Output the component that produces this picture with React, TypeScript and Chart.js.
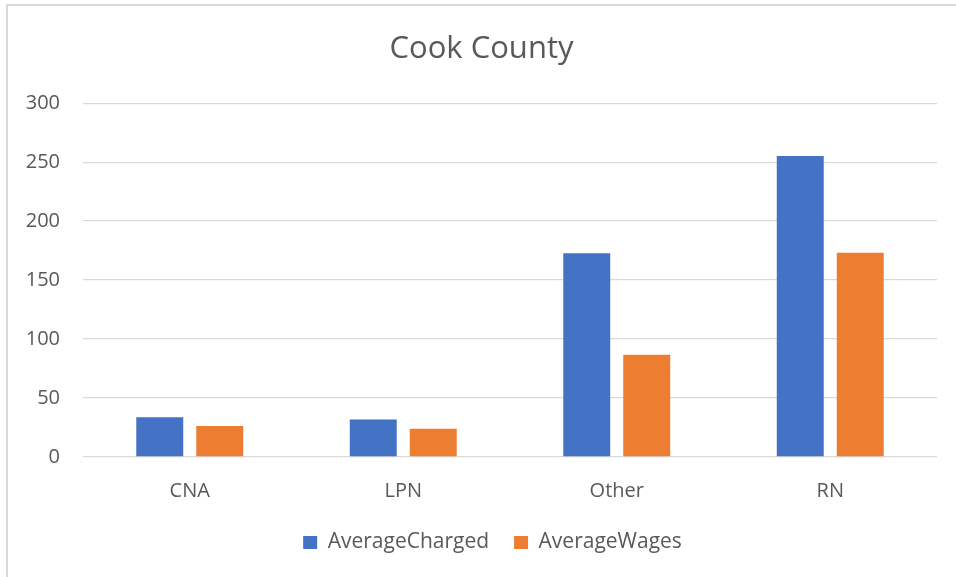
import React, { useEffect, useRef } from "react";
import { Chart, registerables } from "chart.js";

Chart.register(...registerables);

const categories = ["CNA", "LPN", "Other", "RN"];
const averageCharged = [33.6, 31.7, 172.8, 255.2];
const averageWages = [26.3, 24.0, 86.8, 173.2];
const yTicks = [0, 50, 100, 150, 200, 250, 300];

const FONT = "'Open Sans', 'DejaVu Sans', sans-serif";
const TEXT = "#595959";
const GRID = "#d9d9d9";

const framePlugin = {
  id: "frame",
  beforeDraw(chart: any) {
    const { ctx, width, height } = chart;
    ctx.save();
    ctx.fillStyle = "#ffffff";
    ctx.fillRect(0, 0, width, height);
    ctx.strokeStyle = GRID;
    ctx.lineWidth = 2;
    ctx.beginPath();
    ctx.moveTo(7, height);
    ctx.lineTo(7, 5);
    ctx.lineTo(width, 5);
    ctx.stroke();
    ctx.restore();
  },
};

const legendShiftPlugin = {
  id: "legendShift",
  afterLayout(chart: any) {
    const lg = chart.legend;
    if (lg) {
      lg.left += 11;
      lg.right += 11;
    }
  },
};

export default function App() {
  const ref = useRef<HTMLCanvasElement | null>(null);
  useEffect(() => {
    if (!ref.current) return;
    const chart = new Chart(ref.current, {
      type: "bar",
      data: {
        labels: categories,
        datasets: [
          {
            label: "AverageCharged",
            data: averageCharged,
            backgroundColor: "#4472C4",
            categoryPercentage: 0.562,
            barPercentage: 0.783,
          },
          {
            label: "AverageWages",
            data: averageWages,
            backgroundColor: "#ED7D31",
            categoryPercentage: 0.562,
            barPercentage: 0.783,
          },
        ],
      },
      options: {
        responsive: false,
        animation: false,
        layout: { padding: { left: 26, right: 19, top: 0, bottom: 14 } },
        plugins: {
          title: {
            display: true,
            text: "Cook County",
            color: TEXT,
            font: { family: FONT, size: 31, weight: "normal" },
            padding: { top: 31, bottom: 35 },
          },
          legend: {
            display: true,
            position: "bottom",
            labels: {
              color: TEXT,
              font: { family: FONT, size: 21 },
              boxWidth: 14,
              boxHeight: 13,
              padding: 25,
            },
          },
          tooltip: { enabled: false },
        },
        scales: {
          x: {
            grid: { display: false, drawTicks: false },
            border: { display: false },
            ticks: {
              color: TEXT,
              font: { family: FONT, size: 20 },
              padding: 22,
            },
            afterFit(scale: any) {
              scale.height = 50;
            },
          },
          y: {
            min: 0,
            max: 300,
            grid: { color: GRID, lineWidth: 1.3, drawTicks: false },
            border: { display: false },
            afterBuildTicks(scale: any) {
              scale.ticks = yTicks.map((v) => ({ value: v }));
            },
            ticks: {
              color: TEXT,
              font: { family: FONT, size: 20 },
              padding: 23,
            },
            afterFit(scale: any) {
              scale.width = 57;
            },
          },
        },
      },
      plugins: [framePlugin, legendShiftPlugin],
    });
    return () => chart.destroy();
  }, []);
  return (
    <div style={{ position: "fixed", left: 0, top: 0, width: 956, height: 577 }}>
      <canvas ref={ref} width={956} height={577} style={{ width: 956, height: 577 }} />
    </div>
  );
}
